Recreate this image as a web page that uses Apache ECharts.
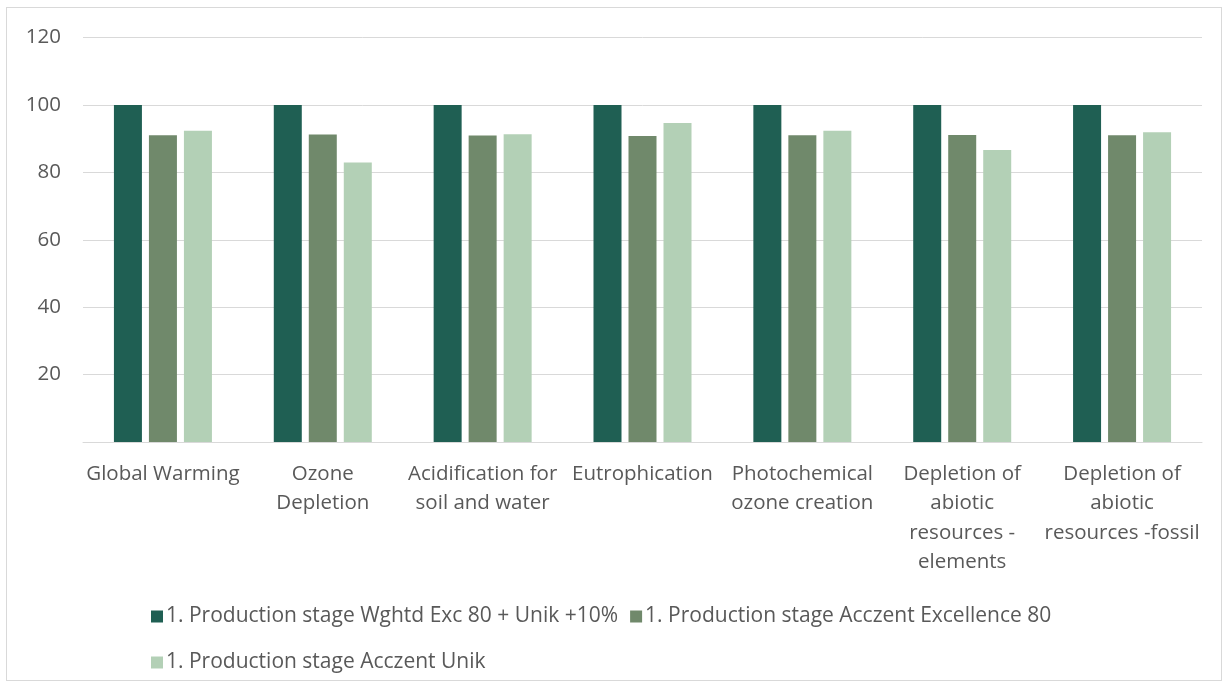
<!DOCTYPE html>
<html><head><meta charset="utf-8">
<script src="https://cdn.jsdelivr.net/npm/echarts@6/dist/echarts.min.js"></script>
<style>html,body{margin:0;padding:0;background:#fff;}
#frame{position:absolute;left:6px;top:7px;width:1216px;height:674px;border:1px solid #d9d9d9;box-sizing:border-box;}
#c{position:absolute;left:0;top:0;width:1229px;height:688px;}</style>
</head><body><div id="frame"></div><div id="c"></div>
<script>
const categories = ["Global Warming","Ozone\nDepletion","Acidification for\nsoil and water","Eutrophication","Photochemical\nozone creation","Depletion of\nabiotic\nresources -\nelements","Depletion of\nabiotic\nresources -fossil"];
const seriesNames = ["1. Production stage Wghtd Exc 80 + Unik +10%","1. Production stage Acczent Excellence 80","1. Production stage Acczent Unik"];
const wghtd = [100,100,100,100,100,100,100];
const excellence = [91.0,91.2,90.9,90.8,91.0,91.1,91.0];
const unik = [92.3,82.9,91.3,94.6,92.3,86.6,91.9];
const colors = ["#1f5f53","#70896b","#b3d0b6"];
const font = "Open Sans";
const fs = 20.5;
const lfs = 21;
const chart = echarts.init(document.getElementById('c'));
const mk = (name, data, i) => ({name, type:'bar', data, barWidth:28, barGap:'25%',
  itemStyle:{color:colors[i]}, emphasis:{disabled:true}});
chart.setOption({
  animation:false,
  grid:{left:83,right:27,top:37.5,bottom:246,containLabel:false},
  xAxis:{type:'category',data:categories,
    axisLine:{lineStyle:{color:'#d9d9d9',width:1}},axisTick:{show:false},
    axisLabel:{interval:0,color:'#595959',fontFamily:font,fontSize:fs,lineHeight:29.5,margin:17}},
  yAxis:{type:'value',min:0,max:120,interval:20,
    axisLine:{show:false},axisTick:{show:false},
    splitLine:{lineStyle:{color:'#d9d9d9',width:1}},
    axisLabel:{color:'#595959',fontFamily:font,fontSize:fs,margin:22,formatter:v=>v===0?'':v}},
  legend:[
    {data:[seriesNames[0],seriesNames[1]],left:146,top:601,itemWidth:12,itemHeight:12,itemGap:12,icon:'rect',
     textStyle:{color:'#595959',fontFamily:font,fontSize:lfs,padding:[0,0,0,-2]}},
    {data:[seriesNames[2]],left:146,top:647,itemWidth:12,itemHeight:12,icon:'rect',
     textStyle:{color:'#595959',fontFamily:font,fontSize:lfs,padding:[0,0,0,-2]}}
  ],
  series:[mk(seriesNames[0],wghtd,0),mk(seriesNames[1],excellence,1),mk(seriesNames[2],unik,2)]
});
</script></body></html>
